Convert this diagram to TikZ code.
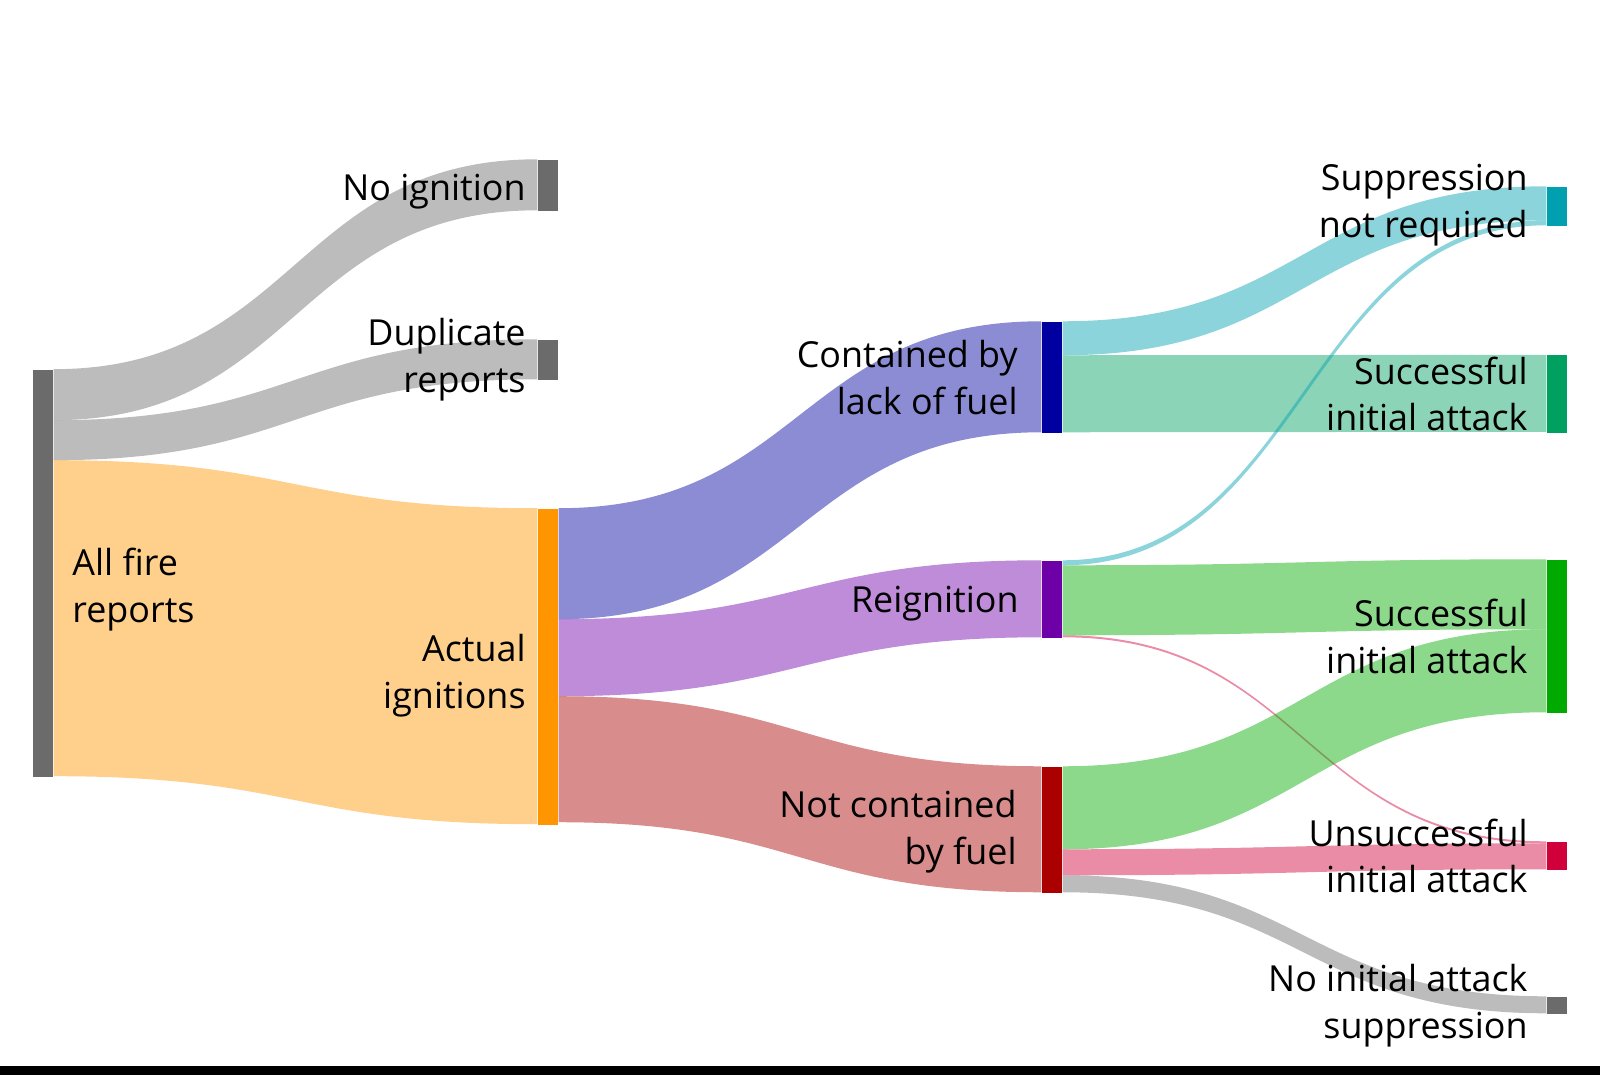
\documentclass[tikz,border=0pt]{standalone}
\usepackage{fontspec}
\setmainfont{Open Sans}
\usetikzlibrary{positioning}
\usetikzlibrary{calc}

\definecolor{reportgray}{HTML}{6B6B6B}
\definecolor{ignorange}{HTML}{FF9500}
\definecolor{fuelblue}{HTML}{0000A0}
\definecolor{reigpurple}{HTML}{6E00A8}
\definecolor{notcred}{HTML}{AA0000}
\definecolor{suppteal}{HTML}{00A0B0}
\definecolor{succteal}{HTML}{00A060}
\definecolor{succgreen}{HTML}{00AA00}
\definecolor{unsucccrimson}{HTML}{D0003A}

% band: source, offset, target, offset, width, colour
\newcommand{\sankeyflow}[6]{%
  \path (#1.north east) ++(0,#2) coordinate (s1) ++(0,#5) coordinate (s2);
  \path (#3.north west) ++(0,#4) coordinate (t1) ++(0,#5) coordinate (t2);
  \path ($(s1)!0.5!(t1)$) coordinate (m);
  \fill[#6, fill opacity=0.45] (s1) .. controls (m |- s1) and (m |- t1) .. (t1) -- (t2) .. controls (m |- t2) and (m |- s2) .. (s2) -- cycle;
}

\begin{document}
\begin{tikzpicture}[x=0.01cm, y=-0.01cm,
    bar/.style={rectangle, inner sep=0pt, minimum width=0.2cm},
    lbl/.style={inner sep=0pt, align=right, font=\fontsize{10.2}{13.3}\selectfont}]
				\useasboundingbox (0,0) rectangle (1600,1075);
				
				%bars
				\node[bar, fill=reportgray, minimum height=4.07cm] (all) at (43,573.5) {};
				\node[bar, fill=reportgray, minimum height=0.51cm] (noign) at (548,185.5) {};
				\node[bar, fill=reportgray, minimum height=0.40cm] (dup) at (548,360) {};
				\node[bar, fill=ignorange, minimum height=3.16cm] (actual) at (548,667) {};
				\node[bar, fill=fuelblue, minimum height=1.11cm] (cont) at (1052,377.5) {};
				\node[bar, fill=reigpurple, minimum height=0.77cm] (reig) at (1052,599.5) {};
				\node[bar, fill=notcred, minimum height=1.26cm] (notc) at (1052,830) {};
				\node[bar, fill=suppteal, minimum height=0.39cm] (supp) at (1557,206.5) {};
				\node[bar, fill=succteal, minimum height=0.77cm] (succa) at (1557,394) {};
				\node[bar, fill=succgreen, minimum height=1.53cm] (succb) at (1557,636.5) {};
				\node[bar, fill=unsucccrimson, minimum height=0.28cm] (unsucc) at (1557,856) {};
				\node[bar, fill=reportgray, minimum height=0.17cm] (noatt) at (1557,1005.5) {};
				
				%flows
				\sankeyflow{all}{0}{noign}{0}{51}{reportgray}
				\sankeyflow{all}{51}{dup}{0}{40}{reportgray}
				\sankeyflow{all}{91}{actual}{0}{316}{ignorange}
				\sankeyflow{actual}{0}{cont}{0}{111}{fuelblue}
				\sankeyflow{actual}{111}{reig}{0}{77}{reigpurple}
				\sankeyflow{actual}{188}{notc}{0}{126}{notcred}
				\sankeyflow{cont}{0}{supp}{0}{34}{suppteal}
				\sankeyflow{cont}{34}{succa}{0}{77}{succteal}
				\sankeyflow{reig}{0}{supp}{34}{5}{suppteal}
				\sankeyflow{reig}{5}{succb}{0}{70}{succgreen}
				\sankeyflow{reig}{75}{unsucc}{0}{2}{unsucccrimson}
				\sankeyflow{notc}{0}{succb}{70}{83}{succgreen}
				\sankeyflow{notc}{83}{unsucc}{2}{26}{unsucccrimson}
				\sankeyflow{notc}{109}{noatt}{0}{17}{reportgray}
				
				%labels
				\node[lbl, right=0.18cm of all, yshift=-0.16cm, align=left] (all-t) {All fire\\reports};
				\node[lbl, left=0.11cm of noign, yshift=-0.065cm] (noign-t) {No ignition};
				\node[lbl, left=0.11cm of dup] (dup-t) {Duplicate\\reports};
				\node[lbl, left=0.11cm of actual, yshift=-0.09cm] (actual-t) {Actual\\ignitions};
				\node[lbl, left=0.23cm of cont] (cont-t) {Contained by\\lack of fuel};
				\node[lbl, left=0.22cm of reig, yshift=-0.04cm] (reig-t) {Reignition};
				\node[lbl, left=0.24cm of notc, yshift=-0.02cm] (notc-t) {Not contained\\by fuel};
				\node[lbl, left=0.18cm of supp, yshift=0.01cm] (supp-t) {Suppression\\not required};
				\node[lbl, left=0.18cm of succa] (succa-t) {Successful\\initial attack};
				\node[lbl, left=0.18cm of succb] (succb-t) {Successful\\initial attack};
				\node[lbl, left=0.18cm of unsucc] (unsucc-t) {Unsuccessful\\initial attack};
				\node[lbl, left=0.18cm of noatt, yshift=-0.005cm] (noatt-t) {No initial attack\\suppression};
				
				%bottom edge
				\fill[black] (0,1066) rectangle (1600,1075);
			\end{tikzpicture}
\end{document}
